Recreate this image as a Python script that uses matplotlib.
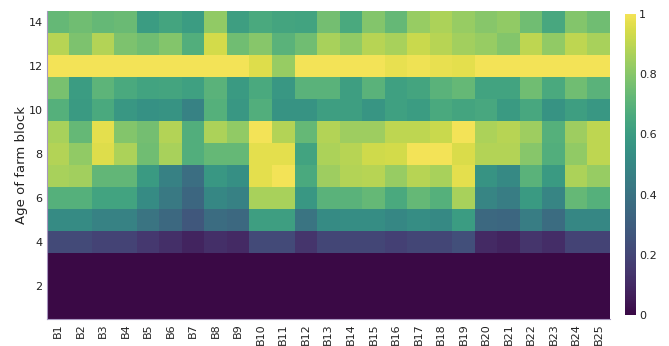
import numpy as np
import matplotlib
matplotlib.use("Agg")
import matplotlib.pyplot as plt
from matplotlib.colors import ListedColormap
from matplotlib.ticker import FuncFormatter

blocks = [f"B{i}" for i in range(1, 26)]
ages = list(range(1, 15))

# Share of the block at each age (rows = age of farm block, columns = B1..B25)
age_01 = [0, 0, 0, 0, 0, 0, 0, 0, 0, 0, 0, 0, 0, 0, 0, 0, 0, 0, 0, 0, 0, 0, 0, 0, 0]
age_02 = [0, 0, 0, 0, 0, 0, 0, 0, 0, 0, 0, 0, 0, 0, 0, 0, 0, 0, 0, 0, 0, 0, 0, 0, 0]
age_03 = [0, 0, 0, 0, 0, 0, 0, 0, 0, 0, 0, 0, 0, 0, 0, 0, 0, 0, 0, 0, 0, 0, 0, 0, 0]
age_04 = [0.22, 0.22, 0.19, 0.19, 0.15, 0.12, 0.08, 0.12, 0.10, 0.22, 0.22, 0.14, 0.20,
          0.20, 0.20, 0.18, 0.20, 0.20, 0.24, 0.10, 0.08, 0.14, 0.11, 0.19, 0.19]
age_05 = [0.52, 0.52, 0.48, 0.48, 0.41, 0.35, 0.27, 0.37, 0.35, 0.61, 0.61, 0.41, 0.52,
          0.53, 0.53, 0.50, 0.53, 0.51, 0.60, 0.35, 0.34, 0.45, 0.37, 0.50, 0.50]
age_06 = [0.69, 0.69, 0.63, 0.63, 0.52, 0.43, 0.34, 0.50, 0.47, 0.86, 0.86, 0.58, 0.70,
          0.70, 0.73, 0.66, 0.73, 0.69, 0.86, 0.49, 0.45, 0.59, 0.49, 0.73, 0.69]
age_07 = [0.86, 0.85, 0.72, 0.72, 0.59, 0.47, 0.38, 0.58, 0.54, 0.97, 1.00, 0.66, 0.84,
          0.88, 0.89, 0.83, 0.89, 0.86, 0.97, 0.56, 0.51, 0.70, 0.59, 0.87, 0.83]
age_08 = [0.88, 0.82, 0.96, 0.87, 0.75, 0.86, 0.68, 0.73, 0.73, 0.97, 0.97, 0.63, 0.87,
          0.89, 0.93, 0.94, 1.00, 1.00, 0.95, 0.88, 0.88, 0.80, 0.68, 0.82, 0.90]
age_09 = [0.86, 0.73, 0.97, 0.79, 0.76, 0.88, 0.68, 0.87, 0.82, 1.00, 0.88, 0.73, 0.88,
          0.84, 0.84, 0.90, 0.90, 0.92, 1.00, 0.87, 0.89, 0.84, 0.69, 0.84, 0.90]
age_10 = [0.69, 0.59, 0.66, 0.58, 0.55, 0.56, 0.48, 0.69, 0.58, 0.68, 0.56, 0.56, 0.61,
          0.61, 0.57, 0.62, 0.60, 0.66, 0.64, 0.65, 0.59, 0.65, 0.56, 0.61, 0.58]
age_11 = [0.77, 0.60, 0.71, 0.66, 0.63, 0.64, 0.62, 0.70, 0.59, 0.66, 0.58, 0.70, 0.70,
          0.61, 0.70, 0.62, 0.64, 0.70, 0.73, 0.63, 0.63, 0.75, 0.66, 0.75, 0.70]
age_12 = [1.00, 1.00, 1.00, 1.00, 1.00, 1.00, 1.00, 1.00, 1.00, 0.96, 0.83, 1.00, 1.00,
          1.00, 1.00, 0.98, 0.99, 0.98, 0.97, 1.00, 1.00, 1.00, 1.00, 1.00, 1.00]
age_13 = [0.89, 0.78, 0.88, 0.78, 0.75, 0.79, 0.68, 0.94, 0.75, 0.80, 0.70, 0.75, 0.86,
          0.82, 0.89, 0.86, 0.92, 0.89, 0.85, 0.83, 0.79, 0.90, 0.82, 0.90, 0.86]
age_14 = [0.73, 0.75, 0.73, 0.74, 0.60, 0.64, 0.60, 0.82, 0.61, 0.66, 0.64, 0.63, 0.76,
          0.66, 0.79, 0.73, 0.83, 0.87, 0.83, 0.80, 0.82, 0.75, 0.65, 0.79, 0.75]

values = np.array([age_01, age_02, age_03, age_04, age_05, age_06, age_07,
                   age_08, age_09, age_10, age_11, age_12, age_13, age_14])

# Slightly muted viridis
base = plt.get_cmap("viridis")(np.linspace(0, 1, 256))[:, :3]
lum = (base @ np.array([0.299, 0.587, 0.114]))[:, None]
muted = 0.72 * base + 0.28 * lum
cmap = ListedColormap(np.clip(muted, 0, 1))

W, H = 669, 346
plt.rcParams['font.family'] = ['DejaVu Sans']
fig = plt.figure(figsize=(W / 100, H / 100), dpi=100)

ax = fig.add_axes([46.7 / W, 1 - 319.3 / H, (610 - 46.7) / W, (319.3 - 11) / H])
x_edges = np.arange(len(blocks) + 1) + 0.5
y_edges = np.arange(len(ages) + 1) + 0.5
mesh = ax.pcolormesh(x_edges, y_edges, values, cmap=cmap, vmin=0, vmax=1,
                     shading="flat")

ax.set_xlim(0.5, len(blocks) + 0.5)
ax.set_ylim(0.5, len(ages) + 0.5)
ax.set_xticks(np.arange(1, len(blocks) + 1))
ax.set_xticklabels(blocks, rotation=90, fontsize=8)
ax.set_yticks([2, 4, 6, 8, 10, 12, 14])
ax.set_yticklabels(["2", "4", "6", "8", "10", "12", "14"], fontsize=8)
ax.tick_params(axis="both", length=0, pad=3, colors="#222222")
ax.set_ylabel("Age of farm block", fontsize=9.5, color="#222222", labelpad=0)
for side in ("top", "right"):
    ax.spines[side].set_visible(False)
for side in ("left", "bottom"):
    ax.spines[side].set_color("#a898c0")
    ax.spines[side].set_linewidth(0.8)

cax = fig.add_axes([625 / W, 1 - 315 / H, 11 / W, (315 - 14) / H])
cb = fig.colorbar(mesh, cax=cax, ticks=[0, 0.2, 0.4, 0.6, 0.8, 1.0])
cb.outline.set_visible(False)
cb.ax.yaxis.set_major_formatter(FuncFormatter(lambda v, _: f"{v:g}"))
cb.ax.tick_params(length=0, pad=2, labelsize=8, colors="#222222")

fig.savefig("out.png", dpi=100)
